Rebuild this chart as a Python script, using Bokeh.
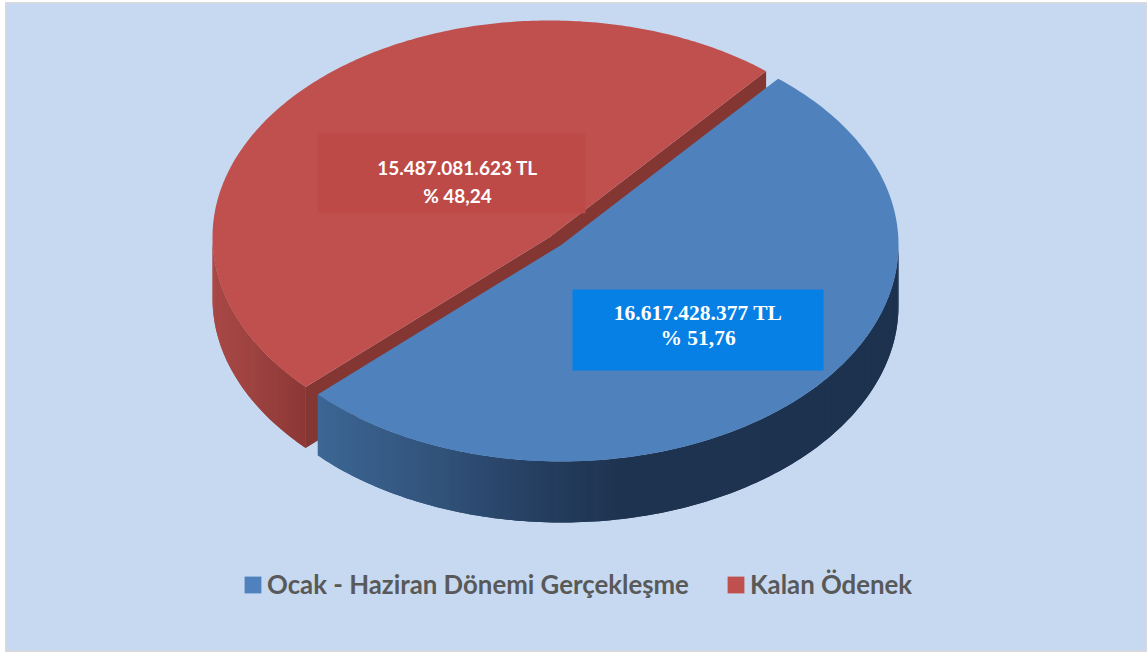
import numpy as np
from bokeh.embed import file_html
from bokeh.resources import INLINE
from bokeh.core.properties import value
from bokeh.models import Range1d, Legend, LegendItem
from bokeh.plotting import figure

# data
names = ["Ocak - Haziran Dönemi Gerçekleşme", "Kalan Ödenek"]
amounts = [16617428377, 15487081623]
label_amounts = ["16.617.428.377 TL", "15.487.081.623 TL"]
label_shares = ["% 51,76", "% 48,24"]

# styling / geometry
BG = "#C6D9F1"
TOP = ["#4F81BD", "#C0504D"]
WALL_RED = "#843633"
A, B, DEPTH = 337.0, 216.75, 61.0
CENTERS = [(561.0, 244.25), (549.0, 236.75)]
START_DEG = 50.0

shares = np.array(amounts, float) / sum(amounts)
blue_end = START_DEG - shares[0] * 360.0   # clockwise on screen
red_end = START_DEG + shares[1] * 360.0    # counter-clockwise on screen


def pt(c, deg):
    t = np.radians(deg)
    return c[0] + A * np.cos(t), c[1] - B * np.sin(t)


def lerp_color(stops, x):
    xs = [s[0] for s in stops]
    rgb = [np.interp(x, xs, [s[1][i] for s in stops]) for i in range(3)]
    return "#%02x%02x%02x" % tuple(int(round(v)) for v in rgb)


def side_wall(center, start, end, step, stops):
    """Gradient outer wall: overlapping strips so no seams show."""
    n = int(np.ceil(abs(end - start) / step))
    angs = np.linspace(start, end, n + 1)
    xs, ys, cs = [], [], []
    for i in range(n):
        arc = angs[i:min(i + 3, n + 1)]
        px = [pt(center, a)[0] for a in arc]
        py = [pt(center, a)[1] for a in arc]
        xs.append(px + px[::-1])
        ys.append(py + [v + DEPTH for v in py[::-1]])
        cs.append(lerp_color(stops, (px[0] + px[1]) / 2))
    return xs, ys, cs


W, H = 1142, 650
X0, Y0 = 5, 2
p = figure(width=W, height=H, x_range=Range1d(X0, X0 + W), y_range=Range1d(Y0 + H, Y0),
           toolbar_location=None, output_backend="svg", min_border=0,
           background_fill_color=BG, border_fill_color=BG,
           outline_line_color="#D9D9D9", outline_line_width=2,
           margin=(Y0, 0, 0, X0))
p.xaxis.visible = False
p.yaxis.visible = False
p.xgrid.visible = False
p.ygrid.visible = False

# red outer wall (only the part facing the viewer, left of the lower corner)
red_side = [(212, (168, 72, 70)), (250, (158, 67, 65)), (305, (140, 56, 54))]
xs, ys, cs = side_wall(CENTERS[1], 180.0, red_end, 1.0, red_side)
p.patches(xs, ys, fill_color=cs, line_color=None)

# red cut faces, one outline so the apex shows no seam
ax, ay = CENTERS[1]
e1x, e1y = pt(CENTERS[1], START_DEG)
e2x, e2y = pt(CENTERS[1], red_end)
p.patch([e1x, ax, e2x, e2x, ax, e1x],
        [e1y, ay, e2y, e2y + DEPTH, ay + DEPTH, e1y + DEPTH],
        fill_color=WALL_RED, line_color=None)

# red top
t = np.radians(np.linspace(START_DEG, red_end, 240))
red_top = p.patch(np.r_[ax, ax + A * np.cos(t)], np.r_[ay, ay - B * np.sin(t)],
                  fill_color=TOP[1], line_color=None)

# blue outer wall
blue_side = [(317, (60, 102, 148)), (430, (50, 84, 124)), (530, (38, 64, 98)),
             (620, (30, 51, 80)), (898, (29, 50, 78))]
bx, by = CENTERS[0]
xs, ys, cs = side_wall(CENTERS[0], blue_end, 0.0, 1.0, blue_side)
p.patches(xs, ys, fill_color=cs, line_color=None)

# blue top
t = np.radians(np.linspace(START_DEG, blue_end, 240))
blue_top = p.patch(np.r_[bx, bx + A * np.cos(t)], np.r_[by, by - B * np.sin(t)],
                   fill_color=TOP[0], line_color=None)

# label boxes
p.quad(left=[572], right=[823], top=[289], bottom=[370], fill_color="#0680E4", line_color=None)
p.quad(left=[317], right=[585], top=[133], bottom=[213], fill_color="#BD4A47", line_color=None)

# labels
serif = dict(text_font=value("Liberation Serif"), text_font_style="bold", text_font_size="21.5px",
             text_color="#FFFFFF", text_align="center", text_baseline="middle")
sans = dict(text_font=value("Lato"), text_font_style="bold", text_font_size="19px",
            text_color="#FFFFFF", text_align="center", text_baseline="middle")
p.text([697.5], [312], text=[label_amounts[0]], **serif)
p.text([697.5], [337], text=[label_shares[0]], **serif)
p.text([457], [167], text=[label_amounts[1]], **sans)
p.text([457], [195], text=[label_shares[1]], **sans)

legend = Legend(items=[LegendItem(label=names[0], renderers=[blue_top]),
                       LegendItem(label=names[1], renderers=[red_top])],
                orientation="horizontal", location=(237, 53),
                glyph_width=21, glyph_height=21, spacing=36, label_standoff=4,
                padding=0, margin=0,
                label_text_font="Lato", label_text_font_style="bold",
                label_text_font_size="25.8px", label_text_color="#595959",
                background_fill_alpha=0, border_line_color=None)
p.add_layout(legend, "center")

open("out.html", "w").write(file_html(p, INLINE))
